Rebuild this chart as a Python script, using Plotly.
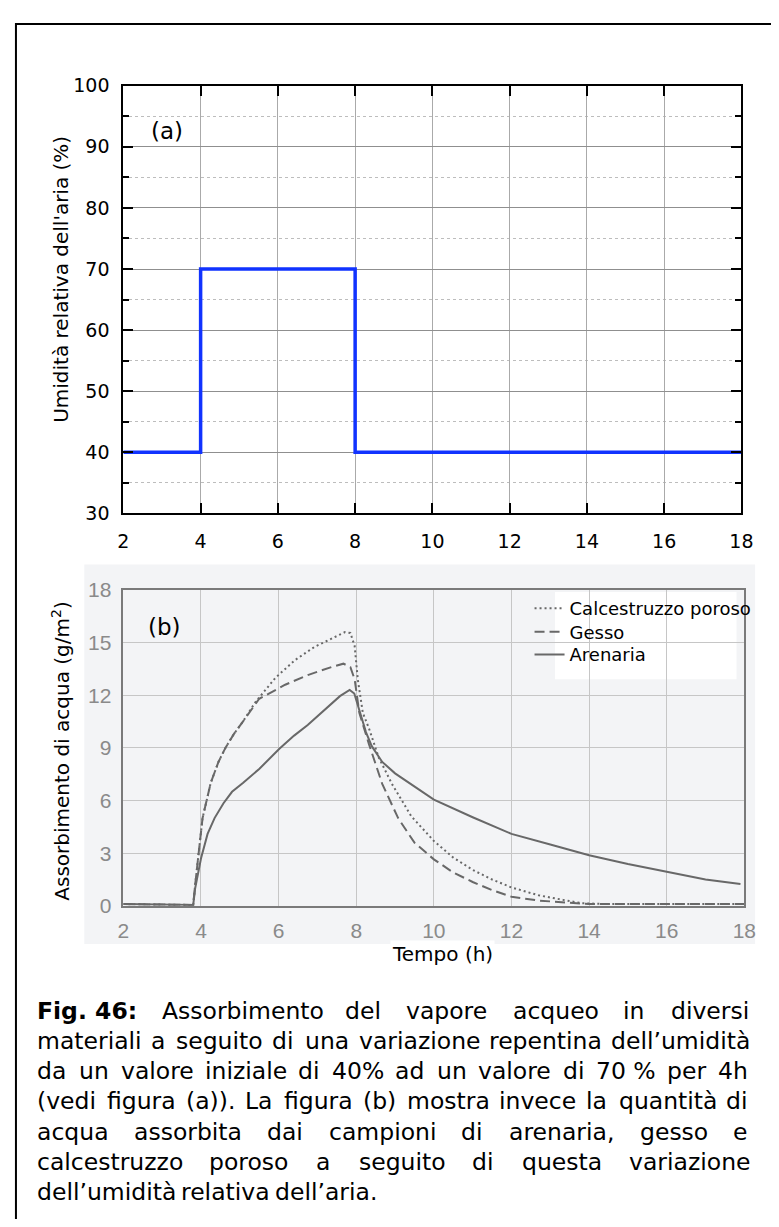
import plotly.graph_objects as go

W, H = 779, 1227          # window size (reference pixels)
OFF = 8                   # default page margin of the html body
FW, FH = W - 2 * OFF, H - 2 * OFF

# ---------------- data ----------------
# (a) relative humidity step
time_a = [2, 4, 4, 8, 8, 18]
rh_a = [40, 40, 70, 70, 40, 40]

# (b) water absorption curves
t_calc = [2, 3.8, 3.85, 3.92, 4.04, 4.25, 4.45, 4.63, 4.85, 5.08, 5.4, 5.92, 6.42, 6.92, 7.42,
          7.71, 7.85, 7.96, 8.04, 8.17, 8.33, 8.58, 8.92, 9.42, 10.0, 10.5, 11.0, 11.5, 12.0,
          12.7, 13.33, 13.8, 14.5, 18]
y_calc = [0.1, 0.05, 1.2, 2.6, 5.0, 7.0, 8.2, 9.0, 9.8, 10.5, 11.6, 13.0, 14.0, 14.75, 15.3,
          15.6, 15.55, 14.8, 12.9, 11.0, 10.1, 8.45, 6.95, 5.1, 3.7, 2.75, 2.05, 1.5, 1.05,
          0.6, 0.34, 0.15, 0.1, 0.1]

t_gesso = [2, 3.8, 3.85, 3.92, 4.04, 4.25, 4.45, 4.63, 4.85, 5.08, 5.5, 6.17, 6.75, 7.42,
           7.67, 7.85, 7.96, 8.08, 8.33, 8.67, 9.08, 9.5, 10.0, 10.5, 11.0, 11.5, 12.0,
           12.7, 13.33, 14.0, 18]
y_gesso = [0.1, 0.05, 1.2, 2.6, 5.0, 7.0, 8.2, 9.0, 9.8, 10.5, 11.8, 12.6, 13.15, 13.65,
           13.8, 13.6, 12.9, 11.0, 9.2, 6.95, 5.0, 3.6, 2.65, 1.9, 1.36, 0.9, 0.52,
           0.3, 0.2, 0.1, 0.1]

t_aren = [2, 3.8, 3.85, 3.92, 4.0, 4.17, 4.35, 4.58, 4.8, 5.08, 5.5, 6.02, 6.4, 6.75, 7.2,
          7.58, 7.83, 7.95, 8.1, 8.25, 8.4, 8.67, 9.0, 9.5, 10.0, 11.0, 12.0, 13.0, 14.0,
          15.0, 16.0, 17.0, 17.9]
y_aren = [0.1, 0.05, 1.0, 1.8, 2.7, 4.1, 5.0, 5.85, 6.5, 7.0, 7.8, 8.95, 9.7, 10.3, 11.2,
          11.95, 12.3, 12.1, 11.0, 9.9, 9.1, 8.2, 7.55, 6.8, 6.05, 5.05, 4.1, 3.5, 2.88,
          2.38, 1.92, 1.5, 1.25]

series_names = ["Calcestruzzo poroso", "Gesso", "Arenaria"]

x_ticks = [2, 4, 6, 8, 10, 12, 14, 16, 18]
ya_ticks = [30, 40, 50, 60, 70, 80, 90, 100]
ya_minor = [35, 45, 55, 65, 75, 85, 95]
yb_ticks = [0, 3, 6, 9, 12, 15, 18]

title_ya = "Umidità relativa dell'aria (%)"
title_yb = "Assorbimento di acqua (g/m<sup>2</sup>)"
title_x = "Tempo (h)"

caption_lines = [
    (["<b>Fig. 46:</b>", "Assorbimento", "del", "vapore", "acqueo", "in", "diversi"], True),
    ("materiali a seguito di una variazione repentina dell’umidità".split(" "), True),
    (["da", "un", "valore", "iniziale", "di", "40%", "ad", "un", "valore", "di", "70 %", "per", "4h"], True),
    ("(vedi figura (a)). La figura (b) mostra invece la quantità di".split(" "), True),
    ("acqua assorbita dai campioni di arenaria, gesso e".split(" "), True),
    ("calcestruzzo poroso a seguito di questa variazione".split(" "), True),
    ("dell’umidità relativa dell’aria.".split(" "), False),
]

# ---------------- helpers ----------------
def px(x):
    return (x - OFF) / FW


def py(y):
    return 1 - (y - OFF) / FH


FONT = "DejaVu Sans"
RW = {' ': .318, 'a': .613, 'b': .635, 'c': .550, 'd': .635, 'e': .615, 'f': .352, 'g': .635,
      'h': .634, 'i': .278, 'l': .278, 'm': .974, 'n': .634, 'o': .612, 'p': .635, 'q': .635,
      'r': .411, 's': .521, 't': .392, 'u': .634, 'v': .592, 'z': .525, 'à': .613, 'L': .557,
      'F': .575, '(': .390, ')': .390, '.': .318, ',': .318, ':': .337, '’': .318, '%': .950}
BW = {'F': .683, 'i': .343, 'g': .716, '.': .380, ' ': .348, ':': .400}


def text_w(s, fs):
    bold = s.startswith("<b>")
    s = s.replace("<b>", "").replace("</b>", "")
    tot = 0
    for ch in s:
        if ch.isdigit():
            tot += .696 if bold else .636
        else:
            tot += (BW.get(ch, .72) if bold else RW.get(ch, .6))
    return tot * fs


fig = go.Figure()

# (a)
fig.add_trace(go.Scatter(x=time_a, y=rh_a, mode="lines", line=dict(color="#1133ff", width=3.5),
                         showlegend=False, xaxis="x", yaxis="y", hoverinfo="skip"))

# (b)
styles = [dict(dash="2px,3px", width=2), dict(dash="10px,5px", width=2), dict(dash="solid", width=2)]
legend_ids = ["legend", "legend2", "legend3"]
for name, xs, ys, st, lg in zip(series_names, [t_calc, t_gesso, t_aren], [y_calc, y_gesso, y_aren],
                                styles, legend_ids):
    fig.add_trace(go.Scatter(x=xs, y=ys, mode="lines", name=name, legend=lg,
                             line=dict(color="#686868", width=st["width"], dash=st["dash"]),
                             xaxis="x2", yaxis="y2"))

tick_a = dict(family=FONT, size=19, color="black")
tick_b = dict(family="Liberation Sans", size=21, color="#8a8a8a")
leg_font = dict(family=FONT, size=18, color="black")

fig.update_layout(
    width=FW, height=FH, margin=dict(l=0, r=0, t=0, b=0),
    paper_bgcolor="white", plot_bgcolor="rgba(0,0,0,0)",
    xaxis=dict(domain=[px(120), px(753)], anchor="y", range=[2, 18], tickvals=x_ticks,
               ticks="inside", ticklen=10, tickwidth=2, tickcolor="black",
               showline=True, linecolor="black", linewidth=2, mirror="ticks",
               showgrid=True, gridcolor="#aaaaaa", gridwidth=1, zeroline=False,
               tickfont=tick_a, ticklabelstandoff=10),
    yaxis=dict(domain=[py(511), py(75)], anchor="x", range=[30, 100], tickvals=ya_ticks,
               ticks="inside", ticklen=10, tickwidth=2, tickcolor="black",
               showline=True, linecolor="black", linewidth=2, mirror="ticks",
               showgrid=True, gridcolor="#8f8f8f", gridwidth=1, zeroline=False,
               tickfont=tick_a, ticklabelstandoff=8,
               minor=dict(tickvals=ya_minor, ticks="inside", ticklen=6, tickwidth=2,
                          tickcolor="black", showgrid=True, gridcolor="#bdbdbd",
                          griddash="dot", gridwidth=1)),
    xaxis2=dict(domain=[px(120), px(756)], anchor="y2", range=[2, 18], tickvals=x_ticks,
                ticks="", showline=True, linecolor="#7a7a7a", linewidth=1.5, mirror=True,
                showgrid=True, gridcolor="#c6c6c6", gridwidth=1, zeroline=False,
                tickfont=tick_b, ticklabelstandoff=5),
    yaxis2=dict(domain=[py(911), py(589)], anchor="x2", range=[0, 18], tickvals=yb_ticks,
                ticks="", showline=True, linecolor="#7a7a7a", linewidth=1.5, mirror=True,
                showgrid=True, gridcolor="#c6c6c6", gridwidth=1, zeroline=False,
                tickfont=tick_b, ticklabelstandoff=6),
    showlegend=True,
)
for lg, yrow in zip(legend_ids, [608, 632, 655]):
    fig.update_layout({lg: dict(x=px(536), y=py(yrow), xanchor="left", yanchor="middle",
                                bgcolor="rgba(0,0,0,0)", font=leg_font, itemwidth=30,
                                borderwidth=0)})

shapes = [
    # scanned chart background
    dict(type="rect", xref="paper", yref="paper", x0=px(80), x1=px(767), y0=py(950), y1=py(563),
         fillcolor="#f3f4f6", line=dict(width=0), layer="below"),
    # area behind legend (hides grid)
    dict(type="rect", xref="paper", yref="paper", x0=px(483), x1=px(754), y0=py(683), y1=py(590),
         fillcolor="#f3f4f6", line=dict(width=0), layer="between"),
    dict(type="rect", xref="paper", yref="paper", x0=px(562), x1=px(748), y0=py(680), y1=py(591),
         fillcolor="white", line=dict(width=0), layer="between"),
    # outer border
    dict(type="rect", xref="paper", yref="paper", x0=px(10), x1=px(800), y0=py(1260), y1=py(12),
         fillcolor="rgba(0,0,0,0)", line=dict(color="black", width=2), layer="above"),
]
fig.update_layout(shapes=shapes)

ann = [
    dict(text=title_ya, x=px(56), y=py(272), textangle=-90, font=dict(family=FONT, size=20, color="black")),
    dict(text=title_yb, x=px(56), y=py(753), textangle=-90, font=dict(family=FONT, size=20, color="black")),
    dict(text=title_x, x=px(447), y=py(960), font=dict(family=FONT, size=20, color="black"),
         bgcolor="white"),
    dict(text="(a)", x=px(165), y=py(121), font=dict(family=FONT, size=23, color="black")),
    dict(text="(b)", x=px(162), y=py(627), font=dict(family=FONT, size=23, color="black")),
]
for a in ann:
    a.update(xref="paper", yref="paper", showarrow=False, xanchor="center", yanchor="middle")

# caption, justified word by word
CAP_FS = 23.5
left, right = 32, 759
y0, dy = 1018, 30.8
for i, (words, justify) in enumerate(caption_lines):
    widths = [text_w(w, CAP_FS) for w in words]
    if justify and len(words) > 1:
        gap = (right - left - sum(widths)) / (len(words) - 1)
    else:
        gap = text_w(" ", CAP_FS)
    xcur = left
    for w, wd in zip(words, widths):
        ann.append(dict(text=w, x=px(xcur - 2), y=py(y0 + i * dy), xref="paper", yref="paper",
                        showarrow=False, xanchor="left", yanchor="middle",
                        font=dict(family=FONT, size=CAP_FS, color="black")))
        xcur += wd + gap

fig.update_layout(annotations=ann)

fig.write_html("out.html")
